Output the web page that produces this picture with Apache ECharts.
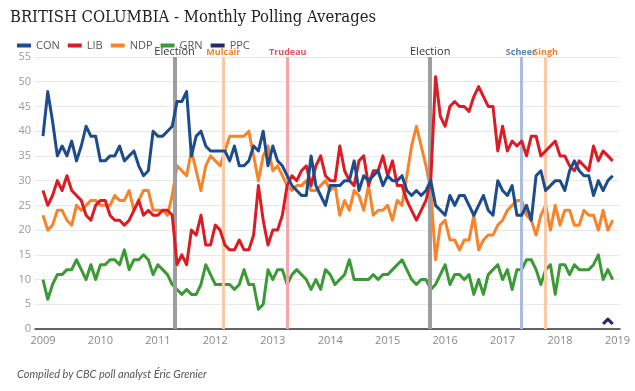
<!DOCTYPE html>
<html><head><meta charset="utf-8">
<script src="https://cdn.jsdelivr.net/npm/echarts@6/dist/echarts.min.js"></script>
<style>html,body{margin:0;padding:0;background:#fff}#c{width:635px;height:391px}</style>
</head><body><div id="c"></div>
<script>
// Monthly values, Jan 2009 .. Dec 2018 (120 months)
const startYear = 2009;
const yearTicks = [2009, 2010, 2011, 2012, 2013, 2014, 2015, 2016, 2017, 2018, 2019];

const CON = [
  39,48,42,35,37,35,38,34,37,41,39,39,
  34,34,35,35,37,34,35,36,33,31,32,40,
  39,39,40,41,46,46,48,35,39,40,37,36,
  36,36,36,34,37,33,33,34,37,36,40,33,
  37,34,33,31,29,28,27,27,35,29,27,25,
  29,29,29,30,30,34,28,31,30,31,32,29,
  31,30,30,31,28,27,28,27,28,30,25,24,
  23,27,25,27,27,25,23,25,27,24,23,30,
  28,27,29,23,23,25,22,31,32,28,29,30,
  30,28,32,34,32,31,31,27,30,28,30,31
];
const LIB = [
  28,25,27,30,28,31,28,27,26,23,22,25,
  26,26,23,22,22,21,22,24,26,23,24,23,
  23,24,24,23,13,15,13,20,19,23,17,17,
  21,20,17,16,16,18,16,16,19,29,22,17,
  20,20,23,29,31,30,32,33,29,33,35,31,
  30,30,37,32,30,29,34,35,29,32,32,35,
  31,34,29,29,26,24,22,24,26,30,51,43,
  41,45,46,45,45,44,47,49,47,45,45,36,
  41,36,38,37,38,35,39,39,35,36,37,38,
  35,35,33,32,34,33,32,37,34,36,35,34
];
const NDP = [
  23,20,21,24,24,22,21,25,24,25,26,26,
  25,25,25,27,26,26,28,24,26,28,28,24,
  24,24,23,27,33,32,31,36,32,28,33,35,
  34,33,36,39,39,39,39,40,35,30,35,37,
  32,33,31,29,28,29,29,30,28,28,29,30,
  28,29,23,26,24,28,27,24,29,23,24,24,
  25,22,26,25,31,37,41,37,33,28,14,21,
  22,18,18,16,18,18,23,16,18,19,19,21,
  22,24,25,26,26,23,22,19,23,25,20,25,
  21,24,24,21,21,24,23,23,20,24,20,22
];
const GRN = [
  10,6,9,11,11,12,12,14,12,10,13,10,
  13,13,14,14,13,16,12,14,14,15,14,11,
  13,12,11,9,8,7,8,7,7,9,13,11,
  9,9,9,9,8,9,12,9,9,4,5,12,
  10,12,12,9,11,12,11,10,8,10,8,12,
  11,9,10,11,14,10,10,10,10,11,10,11,
  11,12,13,14,12,10,9,10,10,8,9,11,
  13,9,11,11,10,11,7,10,7,11,12,13,
  10,12,8,12,12,14,14,12,9,12,13,7,
  13,13,11,13,12,12,12,13,15,10,12,10
];
// PPC only polled from Oct 2018
const PPC_START = 117;
const PPC = [1, 2, 1];

// Events (decimal year positions)
const eventNames = ['Election', 'Mulcair', 'Trudeau', 'Election', 'Scheer', 'Singh'];
const eventAt = [2011.285, 2012.138, 2013.259, 2015.736, 2017.32, 2017.75];

const colors = { CON: '#1c4c8c', LIB: '#dc1c24', NDP: '#f7842a', GRN: '#3c9a36', PPC: '#23276b' };
const eventStyles = [
  { line: '#9e9e9e', width: 4, text: '#333333', weight: 'normal', size: 11 },
  { line: '#fbc9a6', width: 3, text: '#f5822a', weight: 'bold', size: 9 },
  { line: '#f2a9ac', width: 3, text: '#e0545c', weight: 'bold', size: 9 },
  { line: '#9e9e9e', width: 4, text: '#333333', weight: 'normal', size: 11 },
  { line: '#a9bedc', width: 3, text: '#5b80b6', weight: 'bold', size: 9 },
  { line: '#fbc9a6', width: 3, text: '#f5822a', weight: 'bold', size: 9 }
];

function toPts(arr, offset) {
  return arr.map((v, i) => [startYear + (i + (offset || 0)) / 12, v]);
}
function lineSeries(name, data, z) {
  return {
    type: 'line', name, data, showSymbol: false, symbol: 'none', z,
    color: colors[name], lineStyle: { width: 3, color: colors[name], join: 'round' },
    animation: false, silent: true
  };
}

const chart = echarts.init(document.getElementById('c'), null, { renderer: 'canvas' });
chart.setOption({
  backgroundColor: '#ffffff',
  animation: false,
  title: {
    text: 'BRITISH COLUMBIA - Monthly Polling Averages',
    left: 5, top: 4,
    textStyle: { fontFamily: "'DejaVu Serif Condensed', 'Liberation Serif', serif", fontSize: 16.5, fontWeight: 'normal', color: '#222' }
  },
  legend: {
    left: 12, top: 35, icon: 'rect', itemWidth: 14, itemHeight: 4, itemGap: 8,
    textStyle: { fontFamily: 'Open Sans', fontSize: 11, color: '#555' },
    data: ['CON', 'LIB', 'NDP', 'GRN', 'PPC']
  },
  grid: { left: 35, right: 15, top: 57, bottom: 62, containLabel: false },
  xAxis: {
    type: 'value', min: 2008.861, max: 2019.044,
    axisLine: { show: true, lineStyle: { color: '#333', width: 1.5 } },
    axisTick: { show: false },
    splitLine: { show: false },
    axisLabel: {
      customValues: yearTicks, color: '#888', fontSize: 11, margin: 6,
      fontFamily: 'Open Sans', formatter: v => String(Math.round(v))
    }
  },
  yAxis: {
    type: 'value', min: 0, max: 55, interval: 5,
    axisLine: { show: false }, axisTick: { show: false },
    axisLabel: { color: '#999', fontSize: 11, margin: 4, fontFamily: 'Open Sans' },
    splitLine: { lineStyle: { color: '#e8e8e8', width: 1 } }
  },
  graphic: [
    { type: 'text', left: 17, top: 369,
      style: { text: 'Compiled by CBC poll analyst Éric Grenier', fill: '#555',
        font: 'italic 11px Lato' } }
  ],
  series: [
    {
      type: 'line', name: 'events', data: [], z: 1, silent: true, animation: false,
      markLine: {
        silent: true, symbol: ['none', 'none'], animation: false,
        data: eventNames.map((n, k) => ({
          xAxis: eventAt[k],
          lineStyle: { color: eventStyles[k].line, width: eventStyles[k].width, type: 'solid' },
          label: { show: true, position: 'end', formatter: n, distance: 0,
            color: eventStyles[k].text, fontWeight: eventStyles[k].weight,
            fontSize: eventStyles[k].size, fontFamily: 'Open Sans' }
        }))
      }
    },
    lineSeries('GRN', toPts(GRN), 3),
    lineSeries('NDP', toPts(NDP), 4),
    lineSeries('LIB', toPts(LIB), 5),
    lineSeries('CON', toPts(CON), 6),
    lineSeries('PPC', toPts(PPC, PPC_START), 7)
  ]
});
</script></body></html>
